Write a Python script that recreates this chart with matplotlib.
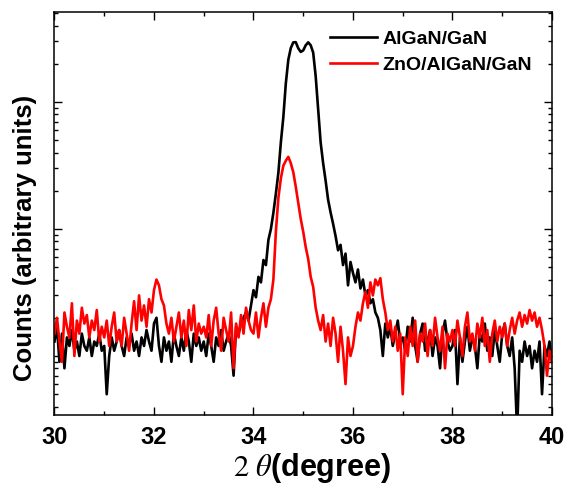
import numpy as np
import matplotlib
matplotlib.use("Agg")
import matplotlib.pyplot as plt
from matplotlib.ticker import MultipleLocator, LogLocator, NullFormatter

plt.rcParams['font.family'] = ['Liberation Sans', 'DejaVu Sans']
plt.rcParams['mathtext.fontset'] = 'stix'

# 2theta grid, 0.05 deg step
two_theta = np.round(np.arange(30.0, 40.0001, 0.05), 2)

# counts (log axis, arbitrary units)
algan_gan = [
    13, 17, 9, 15, 8, 14, 12, 16, 11, 13, 10, 15, 12, 11, 14, 10, 13, 12, 15, 11,      # 30
    12, 5, 10, 14, 11, 13, 16, 12, 10, 14, 12, 15, 11, 13, 10, 14, 12, 16, 13, 11,     # 31
    18, 20, 12, 9, 14, 11, 13, 9, 15, 12, 10, 14, 11, 16, 13, 9, 15, 12, 14, 11,       # 32
    13, 10, 15, 12, 9, 14, 12, 16, 11, 13, 15, 12, 7, 17, 15, 18, 20, 22, 19, 25,      # 33
    33, 29, 42, 38, 57, 52, 82, 100, 134, 190, 276, 480, 760, 1400, 2150, 2660, 2950, 2960, 2650, 2480,  # 34
    2550, 2800, 2950, 2800, 2450, 1600, 870, 480, 330, 240, 170, 135, 110, 88, 68, 75, 52, 64, 36, 55,   # 35
    45, 38, 48, 34, 40, 30, 33, 26, 28, 22, 20, 16, 10, 18, 14, 17, 12, 15, 19, 13,    # 36
    14, 11, 17, 13, 20, 12, 9, 15, 18, 11, 13, 16, 10, 14, 12, 8, 15, 19, 13, 11,      # 37
    12, 16, 6, 14, 9, 13, 17, 11, 14, 12, 8, 15, 13, 18, 11, 14, 10, 16, 12, 9,        # 38
    15, 18, 12, 10, 14, 8, 2.5, 11, 9, 13, 10, 12, 8, 11, 9, 13, 5, 12, 10, 13, 9,     # 39-40
]

zno_algan_gan = [
    15, 20, 13, 9, 22, 17, 14, 26, 10, 19, 15, 24, 18, 21, 14, 19, 16, 23, 13, 17,     # 30
    14, 19, 12, 17, 22, 13, 16, 12, 20, 15, 11, 18, 27, 16, 30, 19, 25, 17, 28, 22,    # 31
    33, 40, 36, 28, 25, 18, 15, 20, 13, 17, 22, 14, 19, 12, 23, 16, 25, 13, 18, 15,    # 32
    17, 14, 21, 12, 19, 24, 15, 11, 20, 16, 13, 22, 8, 18, 14, 21, 15, 24, 19, 16,     # 33
    15, 22, 14, 20, 26, 17, 24, 28, 40, 95, 175, 250, 315, 345, 370, 330, 280, 215, 160, 120,  # 34
    95, 72, 58, 42, 35, 24, 19, 16, 21, 13, 18, 12, 20, 15, 9, 17, 11, 6, 14, 10,      # 35
    12, 17, 22, 19, 26, 32, 24, 38, 30, 40, 36, 41, 28, 22, 16, 19, 13, 17, 11, 15,    # 36
    5, 14, 10, 17, 12, 19, 9, 15, 13, 18, 10, 16, 12, 20, 14, 11, 17, 8, 15, 13,       # 37
    16, 12, 19, 14, 10, 17, 22, 13, 15, 11, 18, 14, 20, 12, 16, 9, 15, 19, 13, 17,     # 38
    14, 18, 12, 16, 20, 15, 19, 22, 17, 21, 18, 23, 19, 22, 17, 20, 16, 12, 7, 11, 9,  # 39-40
]

fig = plt.figure(figsize=(5.67, 4.88), dpi=100)
ax = fig.add_axes([0.0961, 0.1496, 0.8774, 0.8248])

ax.plot(two_theta, algan_gan, color='black', lw=1.9, label='AlGaN/GaN')
ax.plot(two_theta, zno_algan_gan, color='#ff0000', lw=1.9, label='ZnO/AlGaN/GaN')

ax.set_yscale('log')
ax.set_xlim(30, 40)
ax.set_ylim(3.43, 5070)

ax.xaxis.set_major_locator(MultipleLocator(2))
ax.xaxis.set_minor_locator(MultipleLocator(1))
ax.yaxis.set_major_locator(LogLocator(base=10))
ax.yaxis.set_minor_locator(LogLocator(base=10, subs=np.arange(2, 10)))
ax.yaxis.set_major_formatter(NullFormatter())
ax.yaxis.set_minor_formatter(NullFormatter())

ax.tick_params(which='both', direction='in', top=True, right=True, width=1.0)
ax.tick_params(which='major', length=5.5)
ax.tick_params(which='minor', length=3)
ax.tick_params(axis='x', which='major', labelsize=17, pad=8)
for lbl in ax.get_xticklabels():
    lbl.set_fontweight('bold')
for s in ax.spines.values():
    s.set_linewidth(1.1)

ax.set_xlabel(r'$2\ \theta$(degree)', fontsize=22, fontweight='bold')
ax.set_ylabel('Counts (arbitrary units)', fontsize=18.5, fontweight='bold')
ax.xaxis.set_label_coords(0.518, -0.09)
ax.yaxis.set_label_coords(-0.036, 0.44)

leg = ax.legend(loc='upper right', bbox_to_anchor=(0.995, 1.0), frameon=False,
                prop={'size': 14, 'weight': 'bold'}, handlelength=2.4,
                handletextpad=0.3, labelspacing=0.45)

fig.savefig('out.png', dpi=100)
